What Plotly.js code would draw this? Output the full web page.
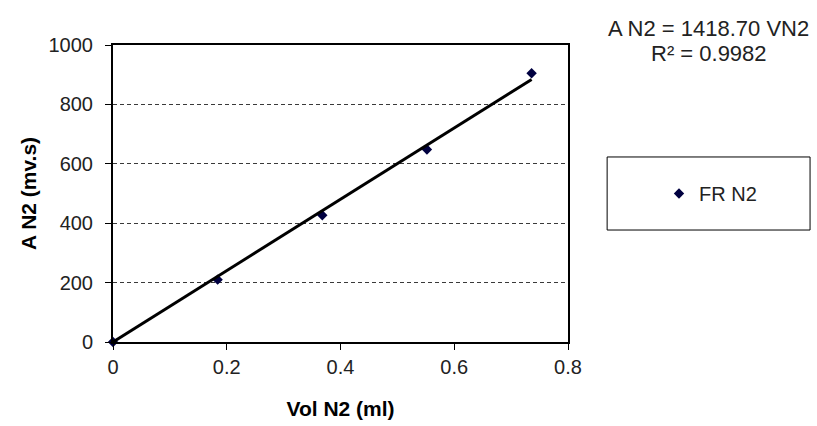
<!DOCTYPE html>
<html><head><meta charset="utf-8">
<script src="https://cdn.plot.ly/plotly-3.0.1.min.js"></script>
<style>html,body{margin:0;padding:0;background:#fff}</style>
</head><body>
<div id="chart" style="width:817px;height:426px"></div>
<script>
const volN2 = [0, 0.184, 0.368, 0.552, 0.736];
const areaN2 = [0, 210, 427, 648, 905];
const seriesName = 'FR N2';
const eqText = 'A N2 = 1418.70 VN2';
const r2Text = 'R² = 0.9982';
const xTicks = [0, 0.2, 0.4, 0.6, 0.8];
const yTicks = [0, 200, 400, 600, 800, 1000];

// linear trendline through origin (least squares)
let sxy = 0, sxx = 0;
volN2.forEach((x, i) => { sxy += x * areaN2[i]; sxx += x * x; });
const slope = sxy / sxx;
const xFit = [volN2[0], volN2[volN2.length - 1]];
const yFit = xFit.map(x => slope * x);

const font = 'Liberation Sans, Arial, sans-serif';
const data = [
  {x: volN2, y: areaN2, type: 'scatter', mode: 'markers', name: seriesName,
   marker: {symbol: 'diamond', size: 8, color: '#000040'}, cliponaxis: false},
  {x: xFit, y: yFit, type: 'scatter', mode: 'lines', showlegend: false,
   line: {color: '#000', width: 3}, hoverinfo: 'skip'}
];
const layout = {
  width: 817, height: 426,
  margin: {l: 113, r: 249, t: 45, b: 84},
  paper_bgcolor: '#fff', plot_bgcolor: '#fff',
  font: {family: font, color: '#000', size: 20},
  showlegend: true,
  xaxis: {range: [0, 0.8], tickvals: xTicks, ticktext: xTicks.map(String),
    showgrid: false, zeroline: false, showline: true, linecolor: '#000', linewidth: 2,
    mirror: true, ticks: 'outside', ticklen: 6, tickcolor: '#000', tickwidth: 1,
    tickfont: {size: 20, color: '#222'}, ticklabelstandoff: 0,
    title: {text: 'Vol N2 (ml)', font: {size: 21, weight: 'bold'}, standoff: 24}},
  yaxis: {range: [0, 1000], tickvals: yTicks, ticktext: yTicks.map(String),
    showgrid: true, gridcolor: '#3a3a3a', gridwidth: 1, griddash: '4px,3px',
    zeroline: false, showline: true, linecolor: '#000', linewidth: 2,
    mirror: true, ticks: 'outside', ticklen: 6, tickcolor: '#000', tickwidth: 1,
    tickfont: {size: 20, color: '#222'}, ticklabelstandoff: 8,
    title: {text: 'A N2 (mv.s)', font: {size: 21, weight: 'bold'}, standoff: 6}},
  legend: {x: 1.20, y: 0.5, xanchor: 'left', yanchor: 'middle',
    bgcolor: 'rgba(0,0,0,0)', borderwidth: 0, itemwidth: 30,
    font: {size: 20, color: '#222'}},
  shapes: [{type: 'rect', xref: 'paper', yref: 'paper',
    x0: 1.086, x1: 1.532, y0: 0.377, y1: 0.623,
    line: {color: '#000', width: 1}, fillcolor: 'rgba(0,0,0,0)'}],
  annotations: [
    {xref: 'paper', yref: 'paper', x: 1.308, y: 1.054, text: eqText, showarrow: false,
     font: {size: 22, color: '#222'}, xanchor: 'center', yanchor: 'middle'},
    {xref: 'paper', yref: 'paper', x: 1.31, y: 0.973, text: r2Text, showarrow: false,
     font: {size: 22, color: '#222'}, xanchor: 'center', yanchor: 'middle'}
  ]
};
Plotly.newPlot('chart', data, layout, {displayModeBar: false, staticPlot: true});
</script>
</body></html>
